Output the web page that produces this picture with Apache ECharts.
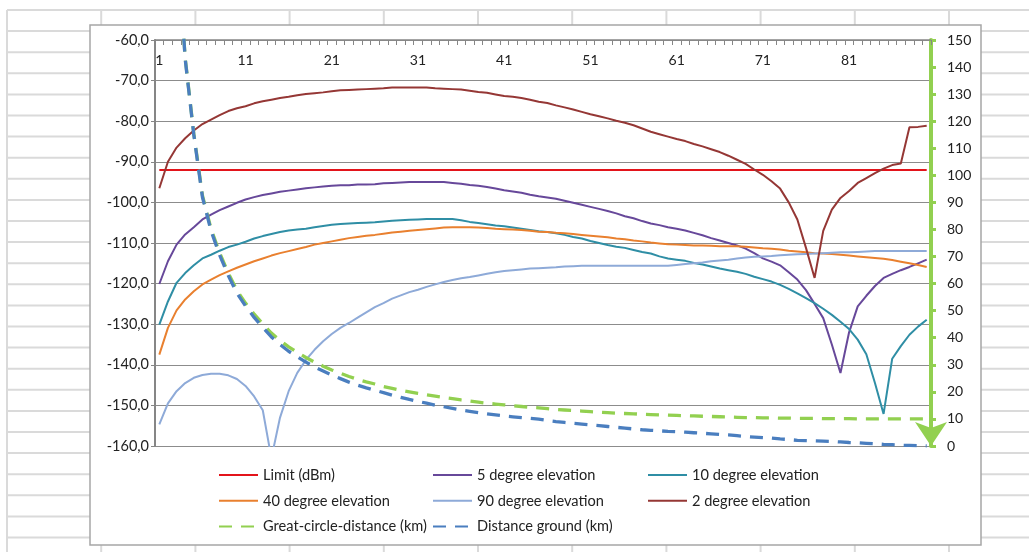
<!DOCTYPE html>
<html>
<head>
<meta charset="utf-8">
<script src="https://cdn.jsdelivr.net/npm/echarts@6/dist/echarts.min.js"></script>
<style>
  html, body { margin: 0; padding: 0; background: #ffffff; }
  #chart { width: 1029px; height: 552px; }
</style>
</head>
<body>
<div id="chart"></div>
<script>
// Elevation angle categories (degrees)
const elevationDeg = [
  1,2,3,4,5,6,7,8,9,10,11,12,13,14,15,16,17,18,19,20,
  21,22,23,24,25,26,27,28,29,30,31,32,33,34,35,36,37,38,39,40,
  41,42,43,44,45,46,47,48,49,50,51,52,53,54,55,56,57,58,59,60,
  61,62,63,64,65,66,67,68,69,70,71,72,73,74,75,76,77,78,79,80,
  81,82,83,84,85,86,87,88,89,90
];

// Received level limit (dBm)
const limitDbm = [
  -92,-92,-92,-92,-92,-92,-92,-92,-92,-92,-92,-92,-92,-92,-92,-92,-92,-92,-92,-92,
  -92,-92,-92,-92,-92,-92,-92,-92,-92,-92,-92,-92,-92,-92,-92,-92,-92,-92,-92,-92,
  -92,-92,-92,-92,-92,-92,-92,-92,-92,-92,-92,-92,-92,-92,-92,-92,-92,-92,-92,-92,
  -92,-92,-92,-92,-92,-92,-92,-92,-92,-92,-92,-92,-92,-92,-92,-92,-92,-92,-92,-92,
  -92,-92,-92,-92,-92,-92,-92,-92,-92,-92
];

// Received level (dBm) per antenna elevation
const elev5 = [
  -120.1,-114.5,-110.4,-107.9,-106.1,-104.2,-103.0,-101.9,-101.0,-100.1,
  -99.3,-98.7,-98.2,-97.8,-97.4,-97.1,-96.8,-96.5,-96.3,-96.1,
  -95.9,-95.8,-95.8,-95.6,-95.6,-95.5,-95.3,-95.2,-95.1,-95.0,
  -95.0,-95.0,-95.0,-95.0,-95.2,-95.4,-95.7,-95.9,-96.2,-96.6,
  -97.0,-97.3,-97.6,-98.1,-98.5,-98.8,-99.1,-99.6,-100.1,-100.6,
  -101.1,-101.6,-102.1,-102.7,-103.4,-103.9,-104.6,-105.2,-105.6,-106.1,
  -106.5,-106.9,-107.5,-108.1,-108.8,-109.4,-110.0,-110.6,-111.4,-112.5,
  -113.8,-114.6,-115.5,-117.2,-119.0,-121.6,-125.0,-128.5,-135.0,-142.0,
  -132.0,-125.6,-123.0,-120.6,-118.6,-117.6,-116.7,-115.9,-115.0,-114.1
];

const elev10 = [
  -130.1,-124.4,-119.8,-117.4,-115.5,-113.8,-112.9,-111.9,-111.0,-110.4,
  -109.7,-108.9,-108.3,-107.8,-107.3,-106.9,-106.7,-106.5,-106.1,-105.8,
  -105.5,-105.3,-105.2,-105.1,-105.0,-104.9,-104.7,-104.5,-104.4,-104.3,
  -104.2,-104.1,-104.1,-104.1,-104.1,-104.4,-104.8,-105.1,-105.4,-105.7,
  -105.9,-106.2,-106.5,-106.8,-107.1,-107.3,-107.6,-108.0,-108.5,-108.9,
  -109.5,-110.0,-110.5,-110.9,-111.2,-111.7,-112.2,-112.6,-113.3,-113.8,
  -114.1,-114.4,-114.9,-115.3,-115.8,-116.3,-116.7,-117.1,-117.6,-118.3,
  -118.9,-119.5,-120.3,-121.3,-122.4,-123.6,-124.8,-126.2,-127.7,-129.4,
  -131.2,-133.8,-137.4,-144.5,-152.1,-138.5,-135.4,-132.6,-130.6,-128.9
];

const elev40 = [
  -137.5,-130.9,-126.6,-123.9,-121.9,-120.2,-119.0,-117.9,-117.0,-116.1,
  -115.3,-114.5,-113.8,-113.1,-112.5,-112.0,-111.5,-111.0,-110.4,-110.0,
  -109.6,-109.2,-108.8,-108.5,-108.2,-108.0,-107.7,-107.4,-107.2,-107.0,
  -106.8,-106.6,-106.4,-106.2,-106.1,-106.1,-106.1,-106.2,-106.3,-106.5,
  -106.6,-106.7,-106.8,-107.0,-107.2,-107.3,-107.5,-107.6,-107.8,-108.0,
  -108.2,-108.4,-108.6,-108.9,-109.1,-109.4,-109.6,-109.9,-110.1,-110.3,
  -110.4,-110.5,-110.6,-110.6,-110.7,-110.8,-110.8,-110.8,-110.9,-111.1,
  -111.3,-111.4,-111.6,-111.9,-112.1,-112.3,-112.5,-112.6,-112.7,-112.9,
  -113.1,-113.3,-113.5,-113.7,-113.9,-114.2,-114.6,-115.0,-115.4,-115.9
];

const elev90 = [
  -154.7,-149.5,-146.5,-144.5,-143.2,-142.5,-142.2,-142.2,-142.6,-143.5,
  -145.2,-147.8,-151.2,-163.0,-153.0,-146.5,-142.0,-138.8,-136.3,-134.2,
  -132.4,-130.9,-129.7,-128.4,-127.1,-125.8,-124.8,-123.7,-122.9,-122.1,
  -121.5,-120.8,-120.2,-119.6,-119.1,-118.7,-118.4,-118.0,-117.6,-117.2,
  -116.9,-116.7,-116.5,-116.3,-116.2,-116.1,-116.0,-115.8,-115.7,-115.6,
  -115.6,-115.6,-115.6,-115.6,-115.6,-115.6,-115.6,-115.6,-115.6,-115.6,
  -115.4,-115.2,-115.0,-114.8,-114.5,-114.3,-114.1,-113.8,-113.6,-113.4,
  -113.3,-113.2,-113.0,-112.9,-112.8,-112.7,-112.6,-112.5,-112.4,-112.3,
  -112.3,-112.2,-112.1,-112.0,-112.0,-112.0,-112.0,-112.0,-112.0,-112.0
];

const elev2 = [
  -96.5,-90.0,-86.5,-84.2,-82.3,-80.7,-79.6,-78.5,-77.5,-76.8,
  -76.3,-75.6,-75.1,-74.7,-74.3,-74.0,-73.6,-73.3,-73.1,-72.9,
  -72.6,-72.4,-72.3,-72.2,-72.1,-72.0,-71.9,-71.7,-71.7,-71.7,
  -71.7,-71.7,-71.9,-72.0,-72.1,-72.2,-72.5,-72.8,-73.0,-73.4,
  -73.8,-74.0,-74.3,-74.7,-75.2,-75.5,-76.1,-76.6,-77.1,-77.7,
  -78.3,-78.8,-79.3,-79.9,-80.4,-81.0,-81.8,-82.6,-83.2,-83.8,
  -84.4,-84.9,-85.6,-86.2,-86.9,-87.6,-88.5,-89.5,-90.5,-91.9,
  -93.2,-94.8,-96.6,-100.0,-104.2,-111.2,-118.6,-107.0,-101.8,-98.9,
  -97.2,-95.2,-94.0,-92.8,-91.7,-90.8,-90.4,-81.5,-81.4,-81.1
];

// Distances (km), secondary axis
const greatCircleKm = [
  573,286,191,143.4,115.4,92.6,80.2,71.3,63.9,57.5,
  52.8,48.7,45.1,41.7,39.0,36.6,34.6,32.7,31.0,29.5,
  28.1,26.9,25.7,24.6,23.7,22.9,22.0,21.3,20.6,20.0,
  19.4,18.9,18.4,17.9,17.5,17.0,16.6,16.2,15.8,15.5,
  15.2,14.9,14.6,14.3,14.1,13.8,13.5,13.3,13.1,12.9,
  12.7,12.5,12.3,12.1,12.0,11.9,11.7,11.6,11.5,11.4,
  11.3,11.2,11.1,11.0,10.9,10.8,10.7,10.6,10.5,10.5,
  10.4,10.4,10.3,10.3,10.2,10.2,10.2,10.1,10.1,10.1,
  10.1,10.0,10.0,10.0,10.0,10.0,10.0,10.0,10.0,10.0
];

const groundKm = [
  573,286,191,143,115,92,79.5,70.5,63,56.5,
  51.7,47.5,43.8,40.3,37.5,35,33,31,29.2,27.7,
  26.2,24.9,23.6,22.5,21.5,20.6,19.7,18.8,18.0,17.2,
  16.5,15.8,15.1,14.5,13.9,13.3,12.8,12.3,11.9,11.5,
  11.1,10.8,10.5,10.2,9.9,9.4,9.0,8.7,8.4,8.1,
  7.8,7.5,7.2,6.9,6.6,6.3,6.0,5.8,5.6,5.4,
  5.3,5.1,4.9,4.7,4.5,4.3,4.1,3.8,3.5,3.3,
  3.1,2.9,2.6,2.4,2.1,2.0,1.9,1.8,1.7,1.5,
  1.3,1.2,1.0,0.8,0.6,0.5,0.3,0.2,0.1,0.0
];

const FONT = 'Lato';
const TEXT = '#222222';
const AXIS_GRAY = '#868686';

// Worksheet cell lines behind the chart object
const sheetLines = [];
for (let k = 0; k < 26; k++) {
  const y = 10 + k * 21.1;
  sheetLines.push({ type: 'line', silent: true, z: -2,
    shape: { x1: 7, y1: y, x2: 1029, y2: y },
    style: { stroke: '#dadada', lineWidth: 2 } });
}
for (let k = 0; k < 11; k++) {
  const x = 7 + k * 94.2;
  sheetLines.push({ type: 'line', silent: true, z: -2,
    shape: { x1: x, y1: 10, x2: x, y2: 552 },
    style: { stroke: '#dadada', lineWidth: 2 } });
}

function line(name, data, color, opts) {
  opts = opts || {};
  return {
    type: 'line',
    name: name,
    data: data,
    yAxisIndex: opts.axis || 0,
    symbol: 'none',
    showSymbol: false,
    silent: true,
    clip: true,
    lineStyle: {
      color: color,
      width: opts.width || 2,
      type: opts.dash || 'solid',
      cap: 'butt'
    },
    itemStyle: { color: color }
  };
}

const legendBase = {
  orient: 'vertical',
  top: 467.5,
  padding: 0,
  itemWidth: 39,
  itemHeight: 15,
  itemGap: 10.8,
  selectedMode: false,
  // line-only keys: the marker in the middle of the key is hidden
  itemStyle: { opacity: 0 },
  textStyle: { fontFamily: FONT, fontSize: 14.6, color: TEXT }
};

const chart = echarts.init(document.getElementById('chart'), null, { renderer: 'canvas' });
chart.setOption({
  animation: false,
  backgroundColor: '#ffffff',
  graphic: {
    elements: sheetLines.concat([{
      type: 'rect', silent: true, z: -1,
      shape: { x: 90, y: 25, width: 891, height: 520 },
      style: { fill: '#ffffff', stroke: '#a6a6a6', lineWidth: 1.5 }
    }])
  },
  grid: { left: 155, top: 40, width: 776, height: 406, containLabel: false },
  legend: [
    Object.assign({}, legendBase, { left: 218, data: ['Limit (dBm)', '40 degree elevation', 'Great-circle-distance (km)'] }),
    Object.assign({}, legendBase, { left: 432, data: ['5 degree elevation', '90 degree elevation', 'Distance ground (km)'] }),
    Object.assign({}, legendBase, { left: 647, data: ['10 degree elevation', '2 degree elevation'] })
  ],
  xAxis: {
    type: 'category',
    data: elevationDeg,
    position: 'top',
    boundaryGap: true,
    axisLine: { onZero: false, lineStyle: { color: AXIS_GRAY, width: 1.5 } },
    axisTick: { show: true, inside: true, interval: 0, length: 5, lineStyle: { color: AXIS_GRAY } },
    axisLabel: { inside: true, interval: 9, margin: 13, color: TEXT, fontFamily: FONT, fontSize: 14 },
    splitLine: { show: false }
  },
  yAxis: [
    {
      type: 'value', position: 'left',
      min: -160, max: -60, interval: 10,
      axisLine: { show: true, lineStyle: { color: AXIS_GRAY, width: 2 } },
      axisTick: { show: true, length: 4, lineStyle: { color: AXIS_GRAY } },
      axisLabel: {
        margin: 6, color: TEXT, fontFamily: FONT, fontSize: 14.5,
        formatter: function (v) { return v.toFixed(1).replace('.', ','); }
      },
      splitLine: { show: true, lineStyle: { color: '#8c8c8c', width: 1 } }
    },
    {
      type: 'value', position: 'right',
      min: 0, max: 150, interval: 10,
      axisLine: {
        show: true,
        symbol: ['arrow', 'none'],
        symbolSize: [24, 24],
        symbolOffset: [0, 0],
        lineStyle: { color: '#92d050', width: 4 }
      },
      axisTick: { show: true, length: 5, lineStyle: { color: '#92d050', width: 3 } },
      axisLabel: { margin: 16, color: TEXT, fontFamily: FONT, fontSize: 14 },
      splitLine: { show: false }
    }
  ],
  series: [
    line('Limit (dBm)', limitDbm, '#e3141b'),
    line('5 degree elevation', elev5, '#67489a'),
    line('10 degree elevation', elev10, '#2f8ea5'),
    line('40 degree elevation', elev40, '#e9802f'),
    line('90 degree elevation', elev90, '#8eaad8'),
    line('2 degree elevation', elev2, '#953735'),
    line('Great-circle-distance (km)', greatCircleKm, '#92d050', { axis: 1, width: 3.3, dash: [13, 9] }),
    line('Distance ground (km)', groundKm, '#4a7ebf', { axis: 1, width: 3.3, dash: [13, 9] })
  ]
});
</script>
</body>
</html>
